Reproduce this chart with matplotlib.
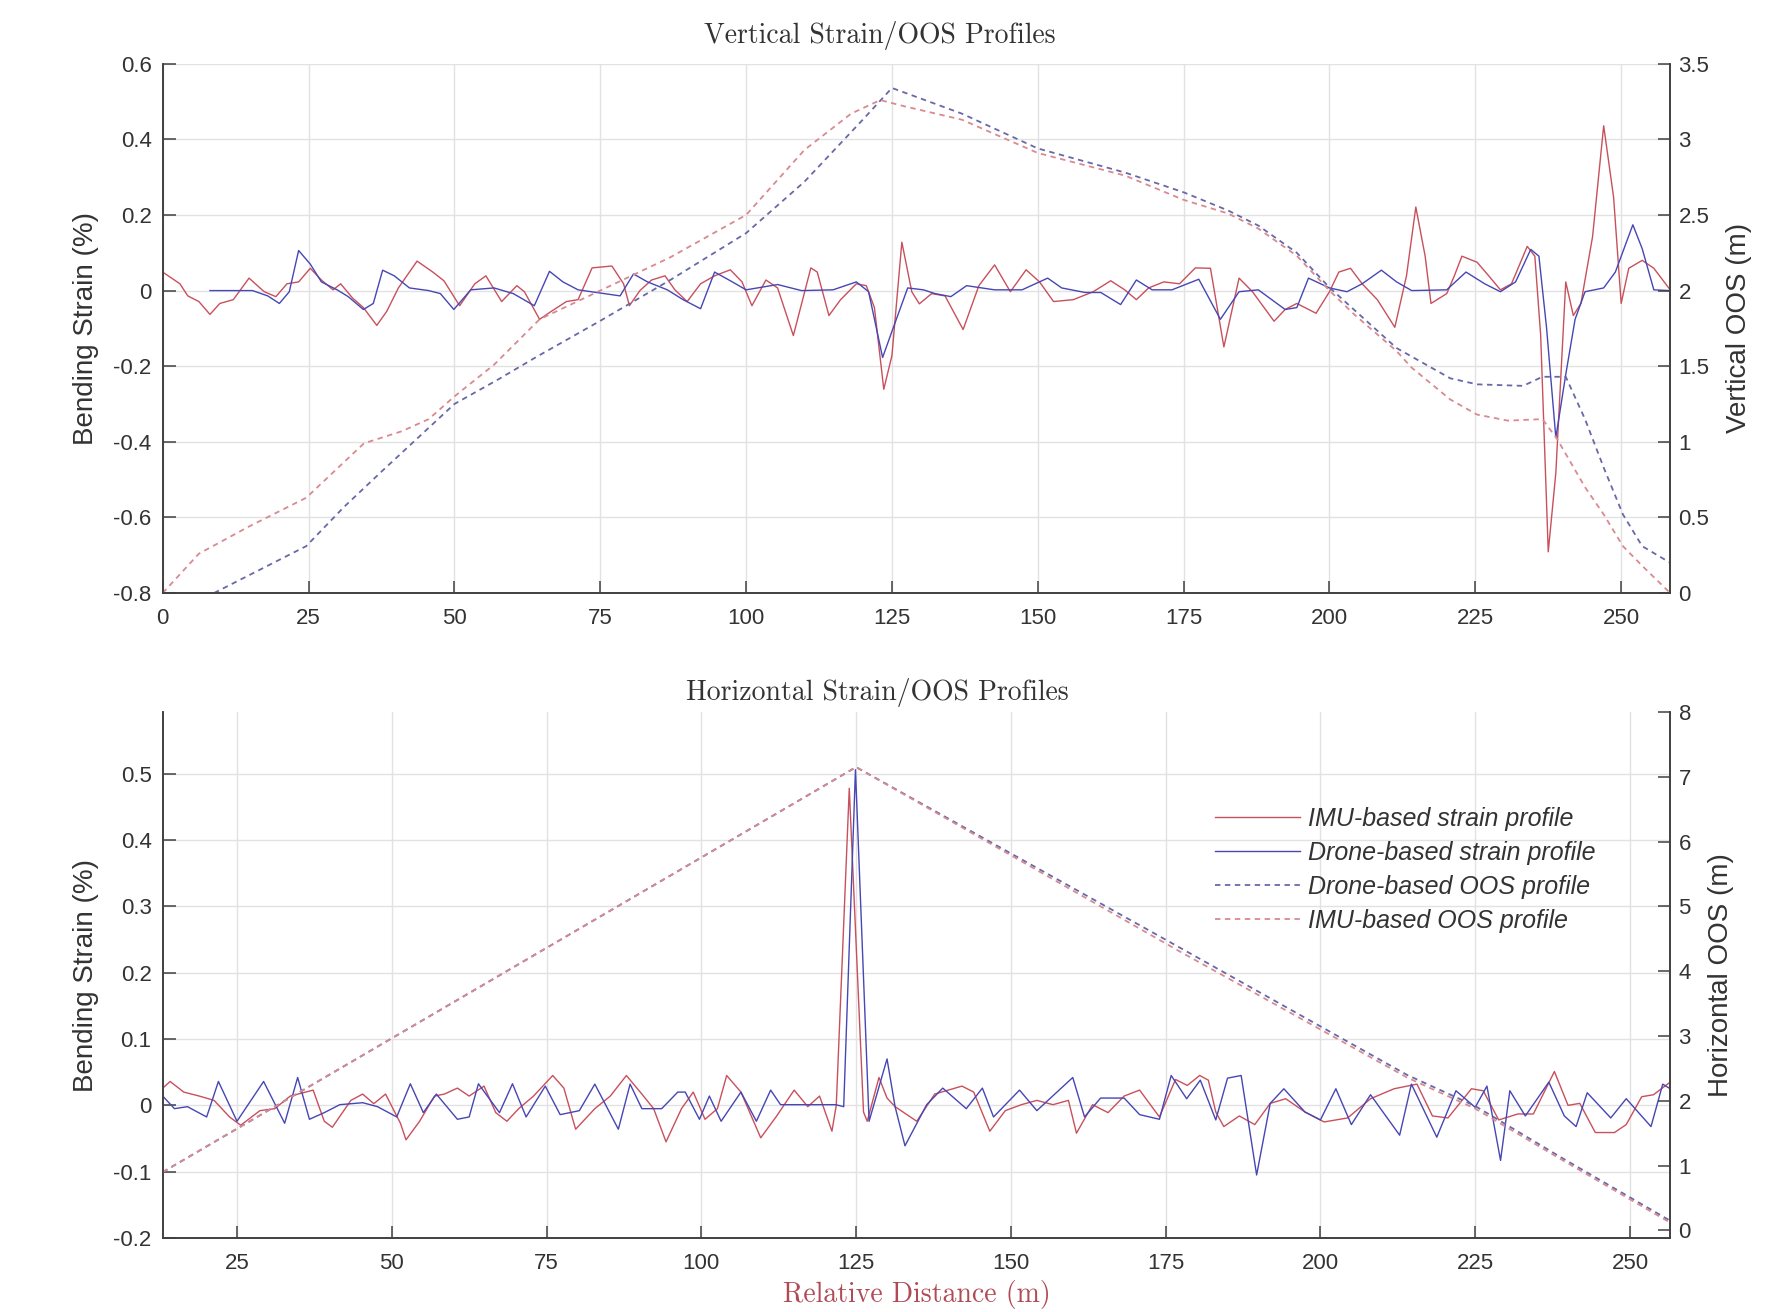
import numpy as np
import matplotlib
matplotlib.use("Agg")
import matplotlib.pyplot as plt

# ---- Vertical profiles (top) ----
v_imu_x = [0, 2.95, 4.3, 6.2, 8.1, 9.8, 12.1, 14.8, 17.4, 19.4, 21.3, 23.3, 25.3, 27.2, 29.2, 30.5, 32.5, 34.4,
           36.7, 38.4, 40.4, 43.6, 46.3, 48.2, 50.9, 53.5, 55.4, 58.1, 60.7, 62, 64.6, 66.6, 69.2, 71.2, 73.6, 77,
           79, 80, 81.8, 83.8, 86.1, 87.8, 89.9, 92.2, 94.6, 97.3, 99.3, 101, 103.4, 105.4, 108.1, 111.1, 112.2,
           114.2, 116.2, 118.9, 120.6, 122, 123.6, 125, 126.7, 128.4, 129.7, 131.8, 134.1, 137.2, 139.9, 142.6,
           145.3, 148, 150.3, 152.7, 156.1, 159.5, 162.5, 164.9, 166.9, 169, 171.6, 174.3, 177, 179.6, 181.9,
           184.5, 186.8, 190.5, 192.4, 194.4, 197.7, 200, 201.6, 203.6, 205.6, 208.2, 211.2, 213.2, 214.8, 216.4,
           217.4, 220.1, 221.4, 222.7, 225.3, 227.3, 229.3, 231.2, 233.9, 235.2, 236.2, 237.5, 238.8, 240.5,
           241.8, 243.1, 245.1, 247, 248.7, 250, 251.3, 253.6, 255.6, 258.4]
v_imu_strain = [0.049, 0.018, -0.014, -0.029, -0.063, -0.034, -0.024, 0.033, -0.003, -0.016, 0.018, 0.023, 0.059,
                0.028, 0.002, 0.018, -0.019, -0.045, -0.092, -0.055, 0.007, 0.078, 0.049, 0.026, -0.04, 0.018,
                0.039, -0.029, 0.013, -0.003, -0.076, -0.055, -0.029, -0.024, 0.06, 0.065, 0.018, -0.04, 0.0,
                0.028, 0.039, 0.002, -0.029, 0.018, 0.039, 0.055, 0.023, -0.04, 0.028, 0.007, -0.119, 0.06, 0.049,
                -0.066, -0.024, 0.018, 0.013, -0.045, -0.261, -0.172, 0.128, -0.003, -0.035, -0.008, -0.014,
                -0.103, 0.013, 0.068, -0.003, 0.055, 0.023, -0.029, -0.024, -0.003, 0.026, 0.002, -0.024, 0.007,
                0.023, 0.018, 0.06, 0.059, -0.149, 0.033, -0.003, -0.081, -0.05, -0.034, -0.06, -0.003, 0.049,
                0.059, 0.018, -0.024, -0.097, 0.039, 0.221, 0.091, -0.034, -0.008, 0.039, 0.091, 0.075, 0.039,
                0.002, 0.018, 0.117, 0.091, -0.118, -0.691, -0.482, 0.023, -0.066, -0.034, 0.143, 0.436, 0.247,
                -0.034, 0.059, 0.080, 0.059, 0.002]

v_drone_x = [8.1, 15.4, 18, 20, 21.7, 23.3, 25.3, 27.2, 29.9, 31.8, 34.4, 36.1, 37.7, 39.7, 42.3, 45.6, 47.6,
             49.9, 52.8, 56.8, 60.1, 63.7, 66.3, 68.6, 71.2, 75.7, 78.4, 80.7, 83.1, 86.5, 89.2, 92.2, 94.6, 97.3,
             100, 105.4, 109.5, 114.9, 118.9, 121, 123.4, 125, 127.7, 130.4, 132.4, 135.1, 137.8, 142.6, 147.3,
             151.7, 154.1, 158.1, 160.8, 164.2, 166.9, 169.6, 173, 177.6, 181.3, 184.5, 187.8, 192.4, 194.4,
             196.4, 200, 203, 205.6, 208.9, 211.5, 214.1, 220.1, 223.4, 226.6, 229.3, 231.9, 234.5, 235.9, 237.2,
             238.8, 240.5, 242.1, 243.8, 247, 249, 252, 253.6, 255.6, 258.4]
v_drone_strain = [0, 0, -0.014, -0.034, -0.003, 0.106, 0.07, 0.023, 0.002, -0.016, -0.05, -0.034, 0.054, 0.039,
                  0.007, 0, -0.008, -0.05, 0.002, 0.007, -0.008, -0.04, 0.051, 0.023, 0.002, -0.008, -0.014,
                  0.044, 0.023, 0.002, -0.024, -0.048, 0.049, 0.026, 0.002, 0.016, 0, 0.002, 0.023, -0.003,
                  -0.177, -0.108, 0.007, 0.002, -0.008, -0.016, 0.013, 0.002, 0.002, 0.033, 0.007, -0.005, -0.005,
                  -0.037, 0.028, 0.002, 0.002, 0.03, -0.076, -0.003, 0.002, -0.05, -0.045, 0.033, 0.007, -0.003,
                  0.018, 0.054, 0.023, 0, 0.002, 0.049, 0.018, -0.003, 0.023, 0.109, 0.091, -0.097, -0.389, -0.222,
                  -0.076, -0.003, 0.007, 0.049, 0.174, 0.111, 0.002, 0]

v_imu_oos_x = [0, 6.2, 14.8, 24.6, 34.5, 41, 45.6, 50, 56.8, 64.6, 75, 87, 100, 110, 118, 123, 127, 137, 150,
               165, 175, 182.6, 187.8, 194.4, 200, 204.3, 211.5, 214.1, 220.7, 225.3, 230.6, 236.5, 239, 243.8,
               247, 250.3, 253.6, 258.4]
v_imu_oos = [0, 0.26, 0.44, 0.63, 0.99, 1.07, 1.15, 1.30, 1.51, 1.81, 2.0, 2.22, 2.5, 2.93, 3.17, 3.26, 3.22,
             3.13, 2.91, 2.76, 2.6, 2.51, 2.41, 2.23, 2.0, 1.84, 1.6, 1.49, 1.28, 1.18, 1.14, 1.15, 1.02, 0.70,
             0.52, 0.31, 0.18, 0.0]

v_drone_oos_x = [8.8, 24.6, 31.1, 37.7, 50, 57.4, 64, 75, 87, 100, 110, 120, 125, 137, 150, 165, 175, 182.6,
                 187.8, 194.4, 200, 211.5, 220.7, 225.3, 233.2, 236.5, 240.5, 243.8, 247, 250.3, 253.6, 258.4]
v_drone_oos = [0, 0.31, 0.57, 0.81, 1.25, 1.41, 1.56, 1.80, 2.07, 2.38, 2.72, 3.13, 3.34, 3.17, 2.94, 2.78,
               2.65, 2.53, 2.43, 2.25, 2.02, 1.62, 1.42, 1.38, 1.37, 1.43, 1.43, 1.15, 0.83, 0.52, 0.31, 0.20]

# ---- Horizontal profiles (bottom) ----
h_imu_x = [13, 14.2, 16.4, 18.9, 21.3, 23.8, 25.6, 28.7, 31.1, 33.6, 36.1, 37.3, 39.1, 40.4, 43.4, 45.3, 47.1,
           49, 51.4, 52.3, 54.5, 56.9, 58.5, 60.6, 62.5, 64.9, 66.8, 68.6, 70.5, 72.9, 76, 77.8, 79.7, 82.8, 85.3,
           87.9, 90.4, 92.3, 94.3, 96.8, 98.7, 100.6, 102.6, 104.1, 106.4, 109.6, 112.1, 115, 117.2, 119.1,
           121.1, 121.8, 123.9, 126.2, 126.8, 128.7, 130, 131.3, 134.8, 137.7, 139.9, 142.1, 144, 146.6, 149.1,
           151.7, 154.2, 156.8, 159.3, 160.6, 163.2, 165.7, 168.3, 170.8, 174, 176.6, 178.5, 180.5, 181.9, 183.1,
           184.4, 186.9, 189.4, 191.9, 194.4, 197.5, 200.6, 204.4, 208.1, 211.9, 215.6, 218.1, 220.6, 224.4,
           226.3, 228.8, 231.9, 234.4, 237.8, 240, 241.9, 244.4, 247.5, 249.4, 251.9, 253.8, 256.5]
h_imu_strain = [0.026, 0.036, 0.02, 0.014, 0.0075, -0.0175, -0.03, -0.008, -0.005, 0.014, 0.02, 0.023, -0.024,
                -0.033, 0.0075, 0.017, 0.0025, 0.017, -0.027, -0.052, -0.024, 0.014, 0.017, 0.026, 0.014, 0.029,
                -0.011, -0.024, -0.005, 0.014, 0.045, 0.026, -0.036, -0.005, 0.014, 0.045, 0.017, -0.005, -0.055,
                -0.005, 0.02, -0.021, -0.005, 0.045, 0.02, -0.049, -0.017, 0.023, -0.002, 0.014, -0.039, 0.0,
                0.478, -0.01, -0.024, 0.042, 0.011, -0.002, -0.024, 0.017, 0.023, 0.029, 0.02, -0.039, -0.008,
                0.001, 0.0075, 0.001, 0.0075, -0.042, 0.001, -0.011, 0.014, 0.023, -0.0175, 0.039, 0.03, 0.045,
                0.038, -0.01, -0.032, -0.016, -0.029, 0.003, 0.01, -0.01, -0.025, -0.019, 0.01, 0.025, 0.032,
                -0.016, -0.019, 0.025, 0.022, -0.022, -0.013, -0.013, 0.051, 0.0, 0.003, -0.041, -0.041, -0.029,
                0.013, 0.016, 0.035]

h_drone_x = [13, 14.9, 17, 20.1, 22, 25, 29.3, 32.7, 34.8, 36.7, 39.1, 41.6, 45.3, 47.7, 50.8, 53, 55.1, 57.2,
             60.6, 62.5, 64, 67.4, 69.5, 71.7, 74.8, 77.2, 80.3, 82.8, 86.6, 88.5, 90.4, 93.6, 96.2, 97.4, 99.7,
             101.3, 103.2, 106.4, 108.9, 111.2, 112.8, 118.5, 121.7, 123, 124.9, 127.1, 130, 131.3, 132.9, 136.4,
             139, 142.8, 145.4, 147.2, 151.4, 154.2, 160, 161.9, 164.5, 168.3, 170.8, 174, 175.9, 178.4, 180.6,
             183.1, 185, 187.2, 189.7, 191.9, 194.1, 197.5, 200, 202.5, 205, 208.1, 212.8, 214.7, 218.8, 221.9,
             225, 226.9, 229.1, 230.6, 233.1, 236.9, 239.4, 241.3, 243.1, 246.9, 249.4, 253.4, 255.3, 256.5]
h_drone_strain = [0.014, -0.005, -0.002, -0.0175, 0.036, -0.024, 0.036, -0.027, 0.042, -0.021, -0.011, 0.001,
                  0.004, -0.002, -0.0175, 0.0325, -0.011, 0.017, -0.021, -0.0175, 0.0325, -0.011, 0.0325, -0.0175,
                  0.029, -0.014, -0.008, 0.032, -0.036, 0.032, -0.005, -0.005, 0.02, 0.02, -0.021, 0.014, -0.024,
                  0.02, -0.024, 0.023, 0.001, 0.001, 0.001, -0.002, 0.506, -0.024, 0.07, -0.002, -0.061, 0.001,
                  0.026, -0.005, 0.026, -0.0175, 0.023, -0.008, 0.042, -0.0175, 0.011, 0.011, -0.014, -0.021,
                  0.045, 0.01, 0.038, -0.022, 0.041, 0.045, -0.105, 0.003, 0.025, -0.01, -0.022, 0.025, -0.029,
                  0.016, -0.045, 0.032, -0.048, 0.022, -0.003, 0.029, -0.083, 0.022, -0.016, 0.035, -0.016, -0.032,
                  0.019, -0.019, 0.01, -0.032, 0.032, 0.025]

h_oos_x = [13, 125, 177, 214, 225, 239, 256.5]
h_drone_oos = [0.9, 7.15, 4.38, 2.4, 1.92, 1.12, 0.15]
h_imu_oos = [0.9, 7.15, 4.32, 2.36, 1.88, 1.09, 0.12]

IMU_COL = "#c8505c"
DRONE_COL = "#4646b4"
DRONE_OOS_COL = "#6868a8"
IMU_OOS_COL = "#d88a90"
AX_COL = "#404040"
TXT_COL = "#333333"

plt.rcParams["font.family"] = ["Liberation Sans", "DejaVu Sans"]


def style_axes(ax, ax2):
    for a in (ax, ax2):
        a.spines["top"].set_visible(False)
        for s in ("left", "right", "bottom"):
            a.spines[s].set_color(AX_COL)
            a.spines[s].set_linewidth(1.2)
        a.tick_params(direction="in", length=9, width=1.1, colors=AX_COL,
                      labelsize=16, labelcolor=TXT_COL)
    ax.tick_params(axis="x", pad=11)
    ax.tick_params(axis="y", pad=8)
    ax2.tick_params(axis="y", pad=6)
    ax.grid(True, color="#e2e2e2", linewidth=1.0)
    ax.set_axisbelow(True)
    ax2.patch.set_visible(False)


def main():
    fig = plt.figure(figsize=(17.84, 13.12), dpi=100)

    # top
    ax1 = fig.add_axes([0.0912, 0.548, 0.845, 0.4034])
    ax1r = ax1.twinx()
    ax1.plot(v_imu_x, v_imu_strain, color=IMU_COL, lw=1.0)
    ax1.plot(v_drone_x, v_drone_strain, color=DRONE_COL, lw=1.0)
    ax1r.plot(v_drone_oos_x, v_drone_oos, color=DRONE_OOS_COL, lw=1.3, ls=(0, (3, 2.5)))
    ax1r.plot(v_imu_oos_x, v_imu_oos, color=IMU_OOS_COL, lw=1.3, ls=(0, (3, 2.5)))
    ax1.set_xlim(0, 258.4)
    ax1.set_ylim(-0.8, 0.6)
    ax1r.set_ylim(0, 3.5)
    ax1.set_xticks(np.arange(0, 251, 25))
    ax1.set_yticks(np.arange(-0.8, 0.61, 0.2))
    ax1.set_yticklabels(["-0.8", "-0.6", "-0.4", "-0.2", "0", "0.2", "0.4", "0.6"])
    ax1r.set_yticks(np.arange(0, 3.51, 0.5))
    ax1r.set_yticklabels(["0", "0.5", "1", "1.5", "2", "2.5", "3", "3.5"])
    ax1.set_ylabel("Bending Strain (%)", fontsize=20, color=TXT_COL, labelpad=10)
    ax1r.set_ylabel("Vertical OOS (m)", fontsize=20, color=TXT_COL, labelpad=12)
    ax1.set_title("Vertical Strain/OOS Profiles", fontfamily="cmr10", fontsize=20,
                  color=TXT_COL, pad=15, x=0.476)
    style_axes(ax1, ax1r)

    # bottom
    ax2 = fig.add_axes([0.0912, 0.0564, 0.845, 0.4009])
    ax2r = ax2.twinx()
    l1, = ax2.plot(h_imu_x, h_imu_strain, color=IMU_COL, lw=1.0)
    l2, = ax2.plot(h_drone_x, h_drone_strain, color=DRONE_COL, lw=1.0)
    l3, = ax2r.plot(h_oos_x, h_drone_oos, color=DRONE_OOS_COL, lw=1.3, ls=(0, (3, 2.5)))
    l4, = ax2r.plot(h_oos_x, h_imu_oos, color=IMU_OOS_COL, lw=1.3, ls=(0, (3, 2.5)))
    ax2.set_xlim(13, 256.5)
    ax2.set_ylim(-0.2, 0.593)
    ax2r.set_ylim(-0.117, 8.0)
    ax2.set_xticks(np.arange(25, 251, 25))
    ax2.set_yticks(np.arange(-0.2, 0.51, 0.1))
    ax2.set_yticklabels(["-0.2", "-0.1", "0", "0.1", "0.2", "0.3", "0.4", "0.5"])
    ax2r.set_yticks(np.arange(0, 9, 1))
    ax2.set_ylabel("Bending Strain (%)", fontsize=20, color=TXT_COL, labelpad=10)
    ax2r.set_ylabel("Horizontal OOS (m)", fontsize=20, color=TXT_COL, labelpad=12)
    ax2.set_title("Horizontal Strain/OOS Profiles", fontfamily="cmr10", fontsize=20,
                  color=TXT_COL, pad=9, x=0.474)
    ax2.set_xlabel("Relative Distance (m)", fontfamily="cmr10", fontsize=20,
                   color="#b04a55", labelpad=4)
    style_axes(ax2, ax2r)

    leg = ax2.legend([l1, l2, l3, l4],
                     ["IMU-based strain profile", "Drone-based strain profile",
                      "Drone-based OOS profile", "IMU-based OOS profile"],
                     loc="upper left", bbox_to_anchor=(0.690, 0.843), frameon=False,
                     borderpad=0, handlelength=3.4, handletextpad=0.32, labelspacing=0.40,
                     prop={"style": "italic", "size": 18})
    for t in leg.get_texts():
        t.set_color(TXT_COL)

    fig.savefig("out.png", dpi=100)


if __name__ == "__main__":
    main()
